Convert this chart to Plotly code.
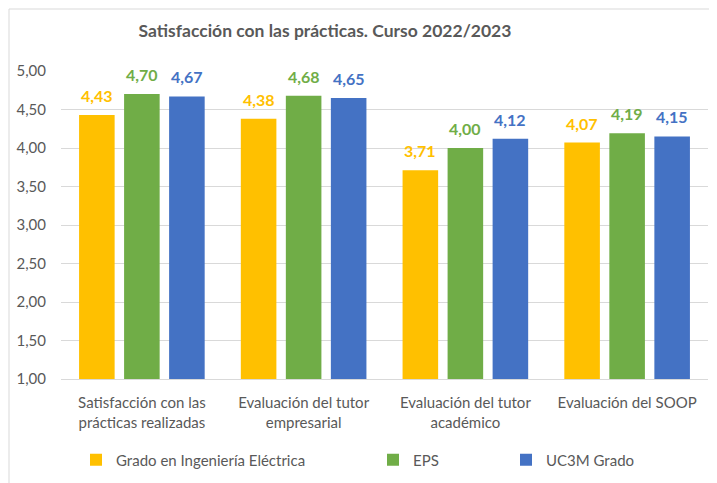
import plotly.graph_objects as go

categories = ["Satisfacción con las<br>prácticas realizadas",
              "Evaluación del tutor<br>empresarial",
              "Evaluación del tutor<br>académico",
              "Evaluación del SOOP"]
series_names = ["Grado en Ingeniería Eléctrica", "EPS", "UC3M Grado"]
grado = [4.43, 4.38, 3.71, 4.07]
eps = [4.70, 4.68, 4.00, 4.19]
uc3m = [4.67, 4.65, 4.12, 4.15]
y_ticks = [1.0, 1.5, 2.0, 2.5, 3.0, 3.5, 4.0, 4.5, 5.0]
title_text = "Satisfacción con las prácticas. Curso 2022/2023"

colors = ["#FFC000", "#70AD47", "#4472C4"]
FONT = "Lato"
GRAY = "#595959"

# the page body has an 8px default margin; work in figure coordinates
OFF = 8
W, H = 717 - OFF, 483 - OFF
L = 61 - OFF
T = 71 - OFF
R = W - (708 - OFF)
B = H - (379 - OFF)
plot_w = W - L - R
plot_h = H - T - B
cat_w = plot_w / len(categories)
bargap = 0.165
slot = cat_w * (1 - bargap) / 3

fig = go.Figure()
legends = ["legend", "legend2", "legend3"]
for i, (name, vals, col, lg) in enumerate(zip(series_names, [grado, eps, uc3m], colors, legends)):
    fig.add_trace(go.Bar(
        x=categories, y=vals, name=name, marker=dict(color=col, line=dict(width=0)),
        legend=lg,
    ))
    for c, v in zip(categories, vals):
        fig.add_annotation(x=c, y=v, xref="x", yref="y",
                           text=f"{v:.2f}".replace(".", ","), showarrow=False,
                           xshift=(i - 1) * slot, yshift=8, yanchor="bottom",
                           font=dict(family=FONT, size=16, color=col, weight="bold"))

leg_common = dict(orientation="h", xref="container", yref="container",
                  yanchor="middle", xanchor="left", bgcolor="rgba(0,0,0,0)",
                  font=dict(family=FONT, size=15, color=GRAY), itemwidth=30)
ly = 1 - (460 - OFF) / H
fig.update_layout(
    width=W, height=H,
    margin=dict(l=L, r=R, t=T, b=B, autoexpand=False),
    paper_bgcolor="white", plot_bgcolor="white",
    separators=",.",
    barmode="group", bargap=bargap, bargroupgap=0.21,
    showlegend=True,
    legend=dict(x=(76 - OFF) / W, y=ly, **leg_common),
    legend2=dict(x=(373 - OFF) / W, y=ly, **leg_common),
    legend3=dict(x=(506 - OFF) / W, y=ly, **leg_common),
    title=dict(text=title_text, x=(325 - OFF) / W, xanchor="center", y=1 - (31 - OFF) / H,
               yanchor="middle",
               font=dict(family=FONT, size=17.5, color=GRAY, weight="bold")),
    font=dict(family=FONT, color=GRAY),
)
fig.update_yaxes(range=[1, 5], tickvals=y_ticks, tickformat=".2f",
                 gridcolor="#D9D9D9", gridwidth=1, zeroline=False, showline=False,
                 tickfont=dict(family=FONT, size=15, color=GRAY), ticklabelstandoff=14,
                 automargin=False)
fig.update_xaxes(showline=True, linecolor="#D9D9D9", linewidth=1,
                 tickfont=dict(family=FONT, size=15, color=GRAY), ticklabelstandoff=10,
                 automargin=False)

fig.add_shape(type="rect", xref="paper", yref="paper",
              x0=(1 - L) / plot_w, x1=(W + 8 - L) / plot_w,
              y0=-(H + 10 - (H - B)) / plot_h, y1=((H - B) - 1) / plot_h,
              line=dict(color="#D9D9D9", width=1), fillcolor="rgba(0,0,0,0)", layer="below")

fig.write_html("out.html")
